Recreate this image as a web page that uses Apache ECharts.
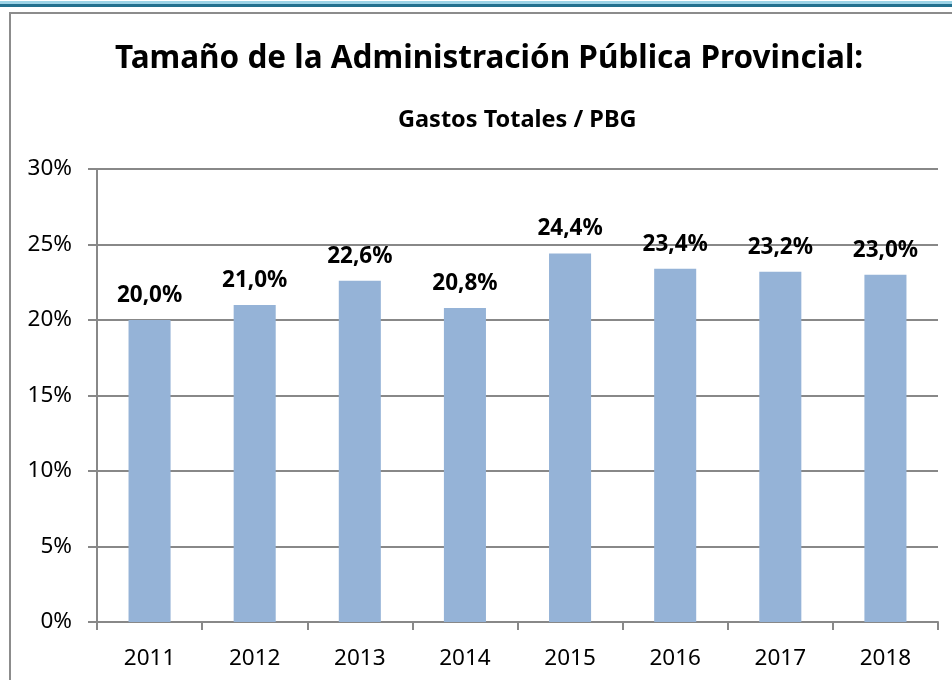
<!DOCTYPE html>
<html lang="es">
<head>
    <meta charset="UTF-8">
    <title>Tamaño de la Administración Pública Provincial</title>
    <style>
        html, body { margin: 0; padding: 0; background: #fff; }
    </style>
</head>
<body>
    <div id="main" style="width: 952px;height:680px;"></div>

    <script src="https://cdn.jsdelivr.net/npm/echarts@6/dist/echarts.min.js"></script>
    <script>
        const years = ['2011', '2012', '2013', '2014', '2015', '2016', '2017', '2018'];
        const gastoPbg = [20.0, 21.0, 22.6, 20.8, 24.4, 23.4, 23.2, 23.0];

        const chart = echarts.init(document.getElementById('main'));
        const font = 'Noto Sans';

        const fmt = v => v.toFixed(1).replace('.', ',') + '%';

        option = {
            animation: false,
            textStyle: { fontFamily: font },
            graphic: [
                // top bands
                { type: 'rect', shape: { x: 0, y: 1, width: 952, height: 3 }, style: { fill: '#9cd3e6' } },
                { type: 'rect', shape: { x: 0, y: 4, width: 952, height: 3 }, style: { fill: '#22708e' } },
                // outer frame
                { type: 'rect', shape: { x: 10, y: 13, width: 960, height: 700 },
                  style: { fill: 'none', stroke: '#8c8c8c', lineWidth: 2 } }
            ],
            title: [
                {
                    text: 'Tamaño de la Administración Pública Provincial:',
                    left: 115,
                    top: 43,
                    padding: [0, 0],
                    textStyle: { fontFamily: font, fontSize: 31.5, fontWeight: 'bold', color: '#000' }
                },
                {
                    text: 'Gastos Totales / PBG',
                    left: 398,
                    top: 108,
                    padding: [0, 0],
                    textStyle: { fontFamily: font, fontSize: 23.5, fontWeight: 'bold', color: '#000' }
                }
            ],
            grid: { left: 97, right: 14, top: 169, bottom: 58, containLabel: false },
            xAxis: {
                type: 'category',
                data: years,
                boundaryGap: true,
                axisLine: { lineStyle: { color: '#888', width: 2 } },
                axisTick: { show: true, length: 8, lineStyle: { color: '#888', width: 2 } },
                axisLabel: { color: '#000', fontSize: 22.5, margin: 25, fontFamily: font }
            },
            yAxis: {
                type: 'value',
                min: 0,
                max: 30,
                interval: 5,
                axisLine: { show: true, lineStyle: { color: '#888', width: 2 } },
                axisTick: { show: true, length: 9, lineStyle: { color: '#888', width: 2 } },
                splitLine: { show: true, lineStyle: { color: '#888', width: 2 } },
                axisLabel: { color: '#000', fontSize: 22.5, margin: 25, fontFamily: font, formatter: '{value}%' }
            },
            series: [{
                type: 'bar',
                data: gastoPbg,
                barWidth: '40%',
                itemStyle: { color: '#95b3d7' },
                label: {
                    show: true,
                    position: 'top',
                    distance: 13,
                    color: '#000',
                    fontSize: 22.5,
                    fontWeight: 'bold',
                    fontFamily: font,
                    formatter: p => fmt(p.value)
                }
            }]
        };

        chart.setOption(option);
    </script>
</body>
</html>
